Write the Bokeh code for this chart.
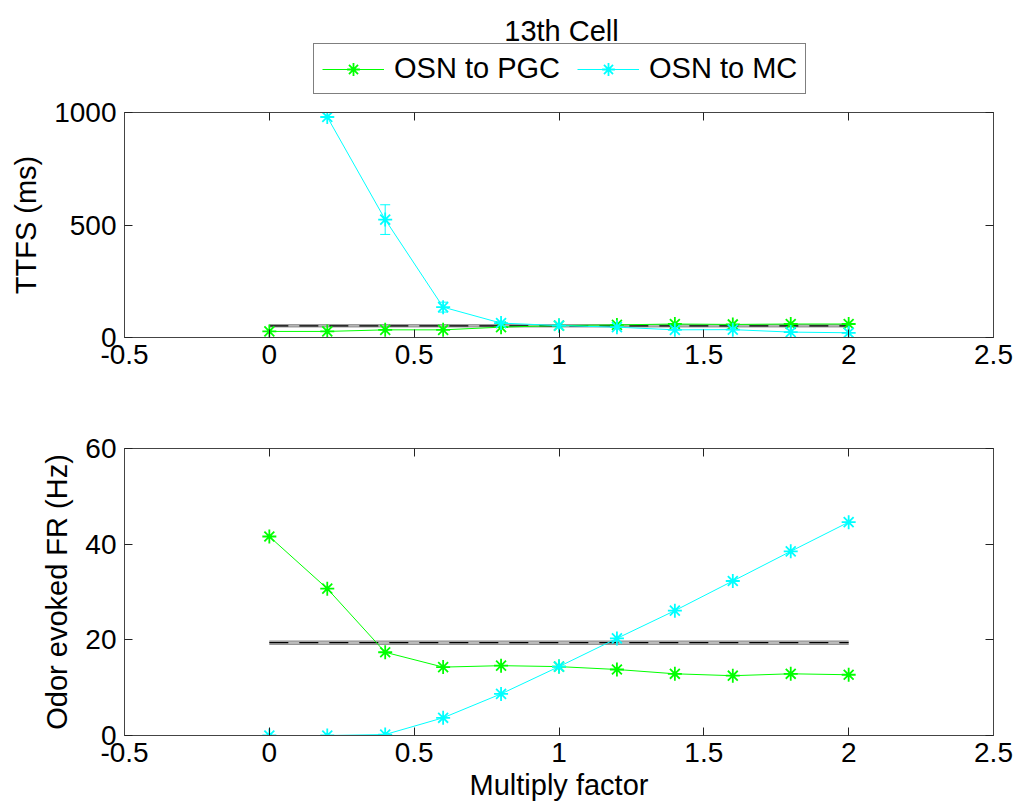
import numpy as np
from bokeh.plotting import figure
from bokeh.layouts import column
from bokeh.models import (Range1d, LinearAxis, FixedTicker, NumeralTickFormatter,
                          CustomJSTickFormatter, Legend, LegendItem, Label, Whisker,
                          ColumnDataSource, TeeHead)
from bokeh.embed import file_html
from bokeh.resources import INLINE

# ---------------- data ----------------
factor = [0.0, 0.2, 0.4, 0.6, 0.8, 1.0, 1.2, 1.4, 1.6, 1.8, 2.0]

pgc_ttfs = [27, 27, 34, 34, 46, 53, 56, 60, 58, 60, 60]
mc_ttfs = [np.nan, 980, 524, 135, 64, 53, 46, 34, 35, 24, 21]
mc_ttfs_err = [0, 0, 66, 22, 6, 0, 0, 0, 0, 0, 0]

pgc_fr = [41.6, 30.7, 17.4, 14.3, 14.6, 14.4, 13.8, 12.9, 12.5, 12.9, 12.7]
mc_fr = [0.0, 0.0, 0.2, 3.7, 8.7, 14.4, 20.3, 26.1, 32.3, 38.5, 44.6]

control_x = [0.0, 2.0]
control_ttfs = 52
control_ttfs_sd = 5
control_fr = 19.4
control_fr_sd = 0.35

x_ticks = [-0.5, 0, 0.5, 1, 1.5, 2, 2.5]
ttfs_ticks = [0, 500, 1000]
fr_ticks = [0, 20, 40, 60]

title_text = "13th Cell"
series_names = ["OSN to PGC", "OSN to MC"]
GREEN = "#00ff00"
CYAN = "#00ffff"

FONT = "Liberation Sans"
TICK_FS = "28px"
LAB_FS = "29px"
FRAME_LEFT = 124


def style_axes(p, yticks, xlabel=None, ylabel=None):
    p.xgrid.visible = False
    p.ygrid.visible = False
    p.outline_line_color = None
    bottom = p.below[0]
    left = p.left[0]
    bottom.ticker = FixedTicker(ticks=x_ticks)
    left.ticker = FixedTicker(ticks=yticks)
    bottom.formatter = NumeralTickFormatter(format="0.[0]")
    left.formatter = NumeralTickFormatter(format="0")
    blank = CustomJSTickFormatter(code="return ''")
    top = LinearAxis(ticker=FixedTicker(ticks=x_ticks), formatter=blank)
    right = LinearAxis(ticker=FixedTicker(ticks=yticks), formatter=blank)
    p.add_layout(top, "above")
    p.add_layout(right, "right")
    for ax in [bottom, left, top, right]:
        ax.major_tick_in = 8
        ax.major_tick_out = 0
        ax.minor_tick_line_color = None
        ax.axis_line_color = "#444444"
        ax.axis_line_width = 1
        ax.major_tick_line_color = "#222222"
        ax.major_label_text_font = FONT
        ax.major_label_text_font_size = TICK_FS
        ax.major_label_text_color = "black"
        ax.axis_label_text_font = FONT
        ax.axis_label_text_font_style = "normal"
        ax.axis_label_text_font_size = LAB_FS
        ax.axis_label_text_color = "black"
    top.major_label_standoff = 0
    right.major_label_standoff = 0
    bottom.major_label_standoff = 7
    left.major_label_standoff = 8
    left.axis_label_standoff = 9
    bottom.axis_label_standoff = 4
    if xlabel:
        bottom.axis_label = xlabel
    if ylabel:
        left.axis_label = ylabel


def control_band(p, val, sd):
    p.varea(x=control_x, y1=[val - sd] * 2, y2=[val + sd] * 2, fill_color="#bdbdbd")
    p.line(x=control_x, y=[val - sd] * 2, line_color="#8a8a8a", line_width=1)
    p.line(x=control_x, y=[val + sd] * 2, line_color="#8a8a8a", line_width=1)
    p.line(x=control_x, y=[val] * 2, line_color="black", line_width=1.3, line_dash="19 11")


def series(p, src, key, color):
    ln = p.line("x", key, source=src, line_color=color, line_width=1)
    mk = p.scatter("x", key, source=src, marker="asterisk", size=14,
                   line_color=color, line_width=1.8)
    return ln, mk


src_top = ColumnDataSource(dict(x=factor, pgc=pgc_ttfs, mc=mc_ttfs))
src_bot = ColumnDataSource(dict(x=factor, pgc=pgc_fr, mc=mc_fr))

# ---------------- header (title + legend) ----------------
HEAD_H = 95
# ranges chosen so that the header's own copies of the series stay out of view;
# they exist only to feed the legend.
p0 = figure(width=1018, height=HEAD_H, x_range=Range1d(10, 20), y_range=Range1d(5000, 6000),
            output_backend="svg", toolbar_location=None, min_border=0,
            x_axis_location=None, y_axis_location=None)
p0.xgrid.visible = False
p0.ygrid.visible = False
p0.outline_line_color = None
g_items = series(p0, src_top, "pgc", GREEN)
c_items = series(p0, src_top, "mc", CYAN)
legend = Legend(items=[LegendItem(label=series_names[0], renderers=list(g_items)),
                       LegendItem(label=series_names[1], renderers=list(c_items))],
                orientation="horizontal", location=(313 - FRAME_LEFT, 1),
                label_text_font=FONT, label_text_font_size=LAB_FS, label_text_color="black",
                glyph_width=62, glyph_height=32, label_standoff=10, spacing=17,
                padding=8, margin=0, border_line_color="black", border_line_width=1,
                background_fill_alpha=1)
p0.add_layout(legend, "center")
p0.add_layout(Label(x=561 - FRAME_LEFT, y=HEAD_H - 30, x_units="screen", y_units="screen",
                    text=title_text, text_align="center", text_baseline="alphabetic",
                    text_font=FONT, text_font_size=LAB_FS, text_color="black"))

# ---------------- top plot ----------------
p1 = figure(width=1018, height=390 - HEAD_H, x_range=Range1d(-0.5, 2.5), y_range=Range1d(0, 1000),
            output_backend="svg", toolbar_location=None,
            min_border_left=FRAME_LEFT, min_border_right=25, min_border_top=112 - HEAD_H,
            min_border_bottom=53)
style_axes(p1, ttfs_ticks, ylabel="TTFS (ms)")
control_band(p1, control_ttfs, control_ttfs_sd)
series(p1, src_top, "pgc", GREEN)
series(p1, src_top, "mc", CYAN)

ex, elo, ehi = [], [], []
for xi, yi, ei in zip(factor, mc_ttfs, mc_ttfs_err):
    if ei > 0:
        ex.append(xi)
        elo.append(yi - ei)
        ehi.append(yi + ei)
err_src = ColumnDataSource(dict(x=ex, lo=elo, hi=ehi))
p1.add_layout(Whisker(source=err_src, base="x", lower="lo", upper="hi",
                      line_color=CYAN, line_width=1,
                      upper_head=TeeHead(size=10, line_color=CYAN, line_width=1),
                      lower_head=TeeHead(size=10, line_color=CYAN, line_width=1)))

# ---------------- bottom plot ----------------
p2 = figure(width=1018, height=420, x_range=Range1d(-0.5, 2.5), y_range=Range1d(0, 60),
            output_backend="svg", toolbar_location=None,
            min_border_left=FRAME_LEFT, min_border_right=25, min_border_top=58, min_border_bottom=75)
style_axes(p2, fr_ticks, xlabel="Multiply factor", ylabel="Odor evoked FR (Hz)")
control_band(p2, control_fr, control_fr_sd)
series(p2, src_bot, "pgc", GREEN)
series(p2, src_bot, "mc", CYAN)

layout = column(p0, p1, p2, spacing=0)
open("out.html", "w").write(file_html(layout, INLINE))
